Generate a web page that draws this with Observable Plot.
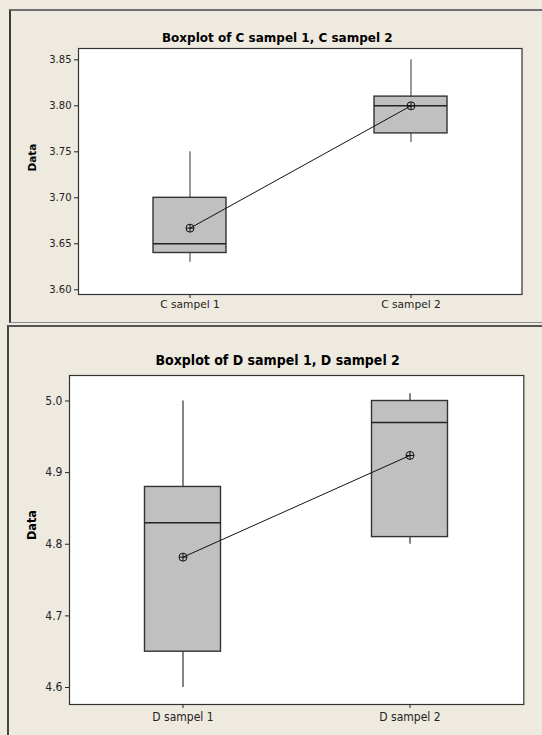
<!DOCTYPE html>
<html>
<head>
<meta charset="utf-8">
<script src="https://cdn.jsdelivr.net/npm/d3@7"></script>
<script src="https://cdn.jsdelivr.net/npm/@observablehq/plot@0.6"></script>
<style>
  html, body { margin: 0; padding: 0; }
  body { width: 542px; height: 735px; background: #EEEAE0; position: relative; overflow: hidden; }
  .panel { position: absolute; box-sizing: border-box; }
  #p1 { left: 9px; top: 9px; width: 540px; height: 314px; border-top: 2px solid #707070; border-left: 2px solid #3c3c3c; border-bottom: 1px solid #8c8c8c; }
  #p2 { left: 7px; top: 325px; width: 540px; height: 420px; border-top: 2px solid #555; border-left: 2px solid #444; }
  .chart { position: absolute; left: 0; }
  #c1 { top: 0; }
  #c2 { top: 325px; }
  svg { background: transparent !important; overflow: visible; }
</style>
</head>
<body>
<div class="panel" id="p1"></div>
<div class="panel" id="p2"></div>
<div class="chart" id="c1"></div>
<div class="chart" id="c2"></div>
<script>
// ---- Panel C data ----
const cTitle = "Boxplot of C sampel 1, C sampel 2";
const cCategories = ["C sampel 1", "C sampel 2"];
const cWhiskerLow = [3.63, 3.76];
const cQ1 = [3.64, 3.77];
const cMedian = [3.65, 3.80];
const cQ3 = [3.70, 3.81];
const cWhiskerHigh = [3.75, 3.85];
const cMean = [3.667, 3.800];
const cTicks = [3.60, 3.65, 3.70, 3.75, 3.80, 3.85];

// ---- Panel D data ----
const dTitle = "Boxplot of D sampel 1, D sampel 2";
const dCategories = ["D sampel 1", "D sampel 2"];
const dWhiskerLow = [4.60, 4.80];
const dQ1 = [4.65, 4.81];
const dMedian = [4.83, 4.97];
const dQ3 = [4.88, 5.00];
const dWhiskerHigh = [5.00, 5.01];
const dMean = [4.782, 4.924];
const dTicks = [4.6, 4.7, 4.8, 4.9, 5.0];

const yLabel = "Data";

// circle with plus symbol
const circlePlus = {
  draw(context, size) {
    const r = Math.sqrt(size / Math.PI);
    context.moveTo(r, 0);
    context.arc(0, 0, r, 0, 2 * Math.PI);
    context.moveTo(-r, 0); context.lineTo(r, 0);
    context.moveTo(0, -r); context.lineTo(0, r);
  }
};

function boxChart(o) {
  const rows = o.cats.map((c, i) => ({
    cat: c, lo: o.lo[i], q1: o.q1[i], med: o.med[i], q3: o.q3[i], hi: o.hi[i], mean: o.mean[i]
  }));
  return Plot.plot({
    width: 542,
    height: o.height,
    marginLeft: o.ml, marginRight: o.mr, marginTop: o.mt, marginBottom: o.mb,
    style: { fontFamily: o.font, fontSize: o.fontSize + "px", color: "#222", background: "transparent" },
    x: { type: "band", domain: o.cats, paddingInner: 0, paddingOuter: 0 },
    y: { domain: o.ydomain },
    marks: [
      Plot.frame({ fill: "white", stroke: "#333", strokeWidth: 1.2 }),
      Plot.ruleX(rows, { x: "cat", y1: "lo", y2: "q1", stroke: o.whisker, strokeWidth: 1.2 }),
      Plot.ruleX(rows, { x: "cat", y1: "q3", y2: "hi", stroke: o.whisker, strokeWidth: 1.2 }),
      Plot.barY(rows, { x: "cat", y1: "q1", y2: "q3", fill: "#C0C0C0", stroke: "#333", strokeWidth: 1.4, insetLeft: o.inset, insetRight: o.inset }),
      Plot.tickY(rows, { x: "cat", y: "med", stroke: "#222", strokeWidth: 1.4, insetLeft: o.inset, insetRight: o.inset }),
      Plot.line(rows, { x: "cat", y: "mean", stroke: "#111", strokeWidth: 1 }),
      Plot.dot(rows, { x: "cat", y: "mean", r: 4, symbol: circlePlus, stroke: "#111", fill: "none", strokeWidth: 1 }),
      Plot.axisY({ ticks: o.ticks, tickFormat: d3.format(o.fmt), tickSize: 4, tickPadding: 3, label: null, fontSize: o.fontSize }),
      Plot.axisX({ tickSize: 4, tickPadding: o.xpad, label: null, fontSize: o.xFontSize }),
      Plot.text([o.title], { frameAnchor: "top", dy: o.titleDy, dx: o.titleDx, fontWeight: "bold", fontSize: o.titleSize, fontFamily: o.titleFont, fill: "#000" }),
      Plot.text([yLabel], { frameAnchor: "left", dx: o.labelDx, rotate: -90, fontWeight: "bold", fontSize: o.labelSize, fill: "#000" })
    ]
  });
}

document.getElementById("c1").append(boxChart({
  cats: cCategories, lo: cWhiskerLow, q1: cQ1, med: cMedian, q3: cQ3, hi: cWhiskerHigh, mean: cMean,
  ticks: cTicks, fmt: ".2f", ydomain: [3.5949, 3.8623],
  height: 322, ml: 78, mr: 20.5, mt: 48, mb: 28,
  inset: 74, whisker: "#555", xpad: 2,
  font: "DejaVu Sans", fontSize: 10, xFontSize: 10.6,
  title: cTitle, titleDy: -15, titleDx: -23, titleSize: 12, titleFont: "DejaVu Sans",
  labelDx: -46, labelSize: 10.5
}));

document.getElementById("c2").append(boxChart({
  cats: dCategories, lo: dWhiskerLow, q1: dQ1, med: dMedian, q3: dQ3, hi: dWhiskerHigh, mean: dMean,
  ticks: dTicks, fmt: ".1f", ydomain: [4.5763, 5.0356],
  height: 410, ml: 69, mr: 18.7, mt: 50, mb: 31,
  inset: 75.5, whisker: "#333", xpad: 4,
  font: "DejaVu Sans Condensed, DejaVu Sans", fontSize: 12, xFontSize: 12,
  title: dTitle, titleDy: -20, titleDx: -19, titleSize: 14, titleFont: "DejaVu Sans Condensed, DejaVu Sans",
  labelDx: -38, labelSize: 12.5
}));
</script>
</body>
</html>
